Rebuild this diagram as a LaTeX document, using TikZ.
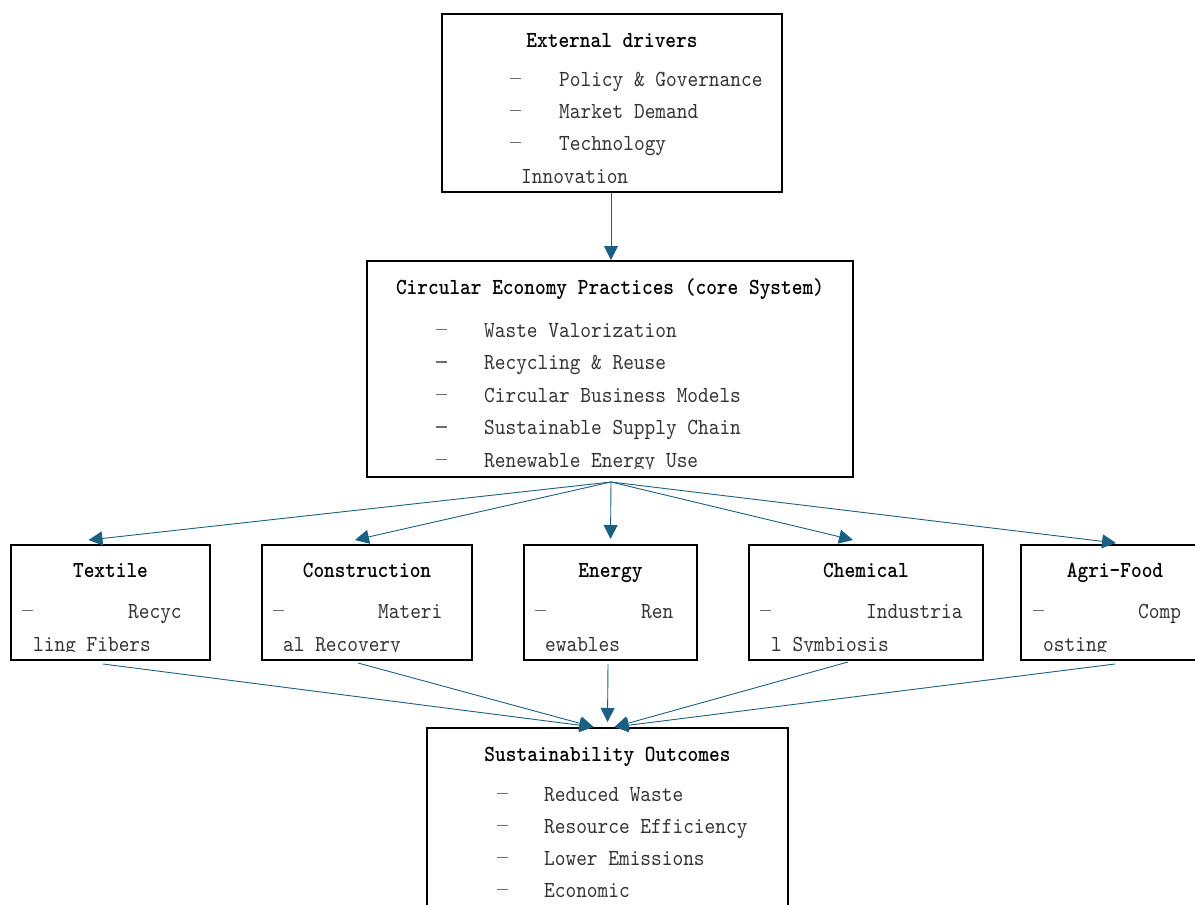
\documentclass[tikz,border=0pt]{standalone}
\usepackage{fontspec}
\setmonofont{lmmono10-regular.otf}[BoldFont=lmmonolt10-bold.otf, FakeStretch=0.886]
\usepackage{tikz}
\usetikzlibrary{calc, arrows.meta}
\definecolor{linkblue}{RGB}{26,96,130}
\definecolor{bodygray}{RGB}{51,51,51}
\definecolor{hyphgray}{RGB}{110,110,110}
\newcommand{\itemdash}{\rule[7pt]{10.5pt}{1.2pt}}

\begin{document}
\begin{tikzpicture}[
        x=1pt, y=-1pt,
        every node/.style={font=\ttfamily\fontsize{23}{26}\selectfont},
        box/.style={rectangle, draw=black, line width=2pt, inner sep=0pt, minimum height=115pt},
        head/.style={inner sep=0pt, anchor=base, font=\ttfamily\bfseries\fontsize{23}{26}\selectfont},
        txt/.style={inner sep=0pt, anchor=base west, text=bodygray},
        hyph/.style={inner sep=0pt, anchor=base west, text=hyphgray},
        conn/.style={draw=linkblue, line width=0.9pt, -{Triangle[length=14pt,width=14pt]}}
    ]
    \useasboundingbox (0,0) rectangle (1195,905);

    % Boxes
    \node[box, minimum width=340pt, minimum height=178pt] (drivers) at (612,103) {};
    \node[box, minimum width=486pt, minimum height=216pt] (core) at (610,369) {};
    \node[box, minimum width=199pt] (textile) at (110.5,602.5) {};
    \node[box, minimum width=210pt] (construction) at (367,602.5) {};
    \node[box, minimum width=173pt] (energy) at (610.5,602.5) {};
    \node[box, minimum width=234pt] (chemical) at (866,602.5) {};
    \node[box, minimum width=188pt] (agrifood) at (1115,602.5) {};
    \node[box, minimum width=361pt, minimum height=232pt] (outcomes) at (607.5,844) {};

    % Titles
    \node[head] (drivers-title) at (612,47) {External drivers};
    \node[head] (core-title) at (610,294) {Circular Economy Practices (core System)};
    \node[head] (textile-title) at (110.5,577) {Textile};
    \node[head] (construction-title) at (367,577) {Construction};
    \node[head] (energy-title) at (610.5,577) {Energy};
    \node[head] (chemical-title) at (866,577) {Chemical};
    \node[head] (agrifood-title) at (1115,577) {Agri-Food};
    \node[head] (outcomes-title) at (607.5,761) {Sustainability Outcomes};

    % External drivers
    \begin{scope}
        \clip (drivers.north west) rectangle ([yshift=10pt]drivers.south east);
        \foreach \t [count=\i from 0] in {Policy \& Governance, Market Demand, Technology}{
            \node[hyph] (drivers-h\i) at (510,86+32*\i) {\itemdash};
            \node[txt] (drivers-t\i) at (559,86+32*\i) {\t};
        }
        \node[txt] (drivers-t3) at (521,183) {Innovation};
    \end{scope}

    % Core system
    \begin{scope}
        \clip (core.north west) rectangle ([yshift=10pt]core.south east);
        \foreach \t [count=\i from 0] in {Waste Valorization, Recycling \& Reuse, Circular Business Models, Sustainable Supply Chain, Renewable Energy Use}{
            \node[hyph] (core-h\i) at (436,337+32.5*\i) {\itemdash};
            \node[txt] (core-t\i) at (484,337+32.5*\i) {\t};
        }
    \end{scope}

    % Sectors
    \foreach \s/\hx/\ax/\a/\bx/\b in {textile/22/128/Recyc/33/ling Fibers,
                                     construction/273/378/Materi/283/al Recovery,
                                     energy/535/641/Ren/545/ewables,
                                     chemical/760/866/Industria/771/l Symbiosis,
                                     agrifood/1033/1138/Comp/1043/osting}{
        \begin{scope}
            \clip (\s.north west) rectangle ([yshift=10pt]\s.south east);
            \node[hyph] (\s-h) at (\hx,618) {\itemdash};
            \node[txt] (\s-a) at (\ax,618) {\a};
            \node[txt] (\s-b) at (\bx,651) {\b};
        \end{scope}
    }

    % Outcomes
    \foreach \t [count=\i from 0] in {Reduced Waste, Resource Efficiency, Lower Emissions, Economic}{
        \node[hyph] (outcomes-h\i) at (497,801+32*\i) {\itemdash};
        \node[txt] (outcomes-t\i) at (544,801+32*\i) {\t};
    }

    % Arrows
    \coordinate (core-out) at ($(core.south)+(1,4)$);
    \draw[conn] ([xshift=-1pt]drivers.south) -- ([xshift=-1pt]drivers.south |- core.north);
    \draw[conn] (core-out) -- ($(textile.north)+(-22,-4)$);
    \draw[conn] (core-out) -- ($(construction.north)+(-12,-4)$);
    \draw[conn] (core-out) -- ($(energy.north)+(0,-5)$);
    \draw[conn] (core-out) -- ($(chemical.north)+(-13,-4)$);
    \draw[conn] (core-out) -- ($(agrifood.north)+(1,-1)$);

    \draw[conn] ($(textile.south)+(-7.5,3)$) -- ($(outcomes.north)+(-14,0)$);
    \draw[conn] ($(construction.south)+(-9,2)$) -- ($(outcomes.north)+(-14,0)$);
    \draw[conn] ($(energy.south)+(-2.5,3)$) -- ($(outcomes.north)+(0,-5)$);
    \draw[conn] ($(chemical.south)+(-18,1)$) -- ($(outcomes.north)+(7,0)$);
    \draw[conn] ($(agrifood.south)+(0,3)$) -- ($(outcomes.north)+(7,0)$);

\end{tikzpicture}
\end{document}
